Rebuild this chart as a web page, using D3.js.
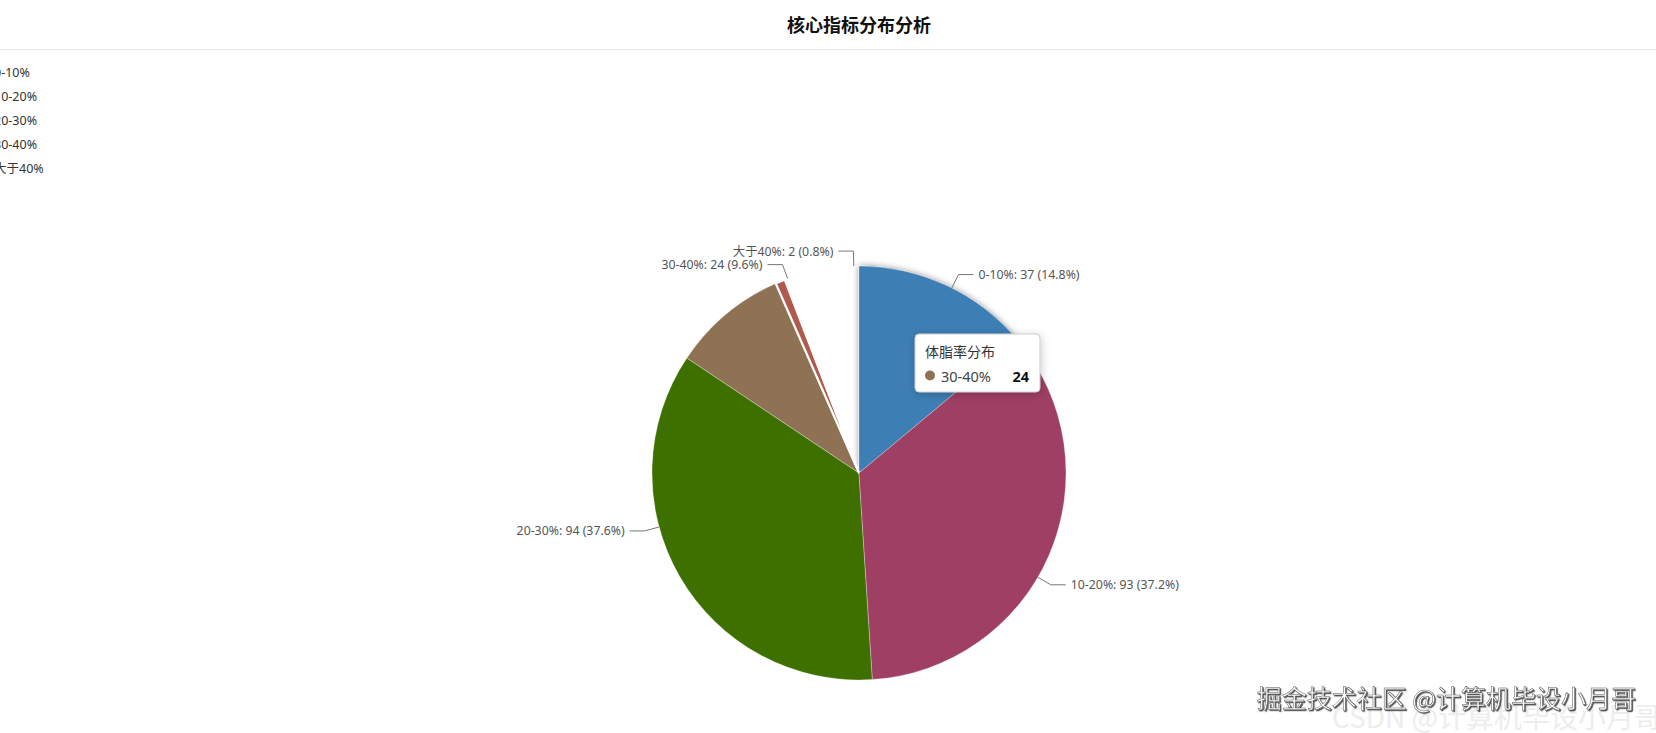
<!DOCTYPE html>
<html>
<head>
<meta charset="utf-8">
<script src="https://cdn.jsdelivr.net/npm/d3@7"></script>
<style>
  html, body { margin: 0; padding: 0; background: #fff; }
  svg { display: block; }
  text { font-family: "Noto Sans", "Noto Sans CJK SC", sans-serif; }
</style>
</head>
<body>
<svg id="chart" width="1656" height="733"></svg>
<script>
// ---- data ----
const chartTitle = "核心指标分布分析";
const seriesName = "体脂率分布";
const categories = ["0-10%", "10-20%", "20-30%", "30-40%", "大于40%"];
const values = [37, 93, 94, 24, 2];
const colors = ["#3d7eb4", "#9f3f63", "#3e7000", "#8f7254", "#b05a4d"];
const sweepDegrees = 339;           // how far the pie had swept when captured
const tooltipIndex = 3;             // item shown in the tooltip
const watermarkMain = "掘金技术社区 @计算机毕设小月哥";
const watermarkBack = "CSDN @计算机毕设小月哥";

// ---- layout ----
const W = 1656, H = 733;
const cx = 859, cy = 473, R = 207;
const svg = d3.select("#chart");

const defs = svg.append("defs");
const sh = defs.append("filter").attr("id", "sliceShadow")
  .attr("x", "-20%").attr("y", "-20%").attr("width", "140%").attr("height", "140%");
sh.append("feDropShadow").attr("dx", 0).attr("dy", 0).attr("stdDeviation", 3)
  .attr("flood-color", "#000").attr("flood-opacity", 0.45);
const tsh = defs.append("filter").attr("id", "tipShadow")
  .attr("x", "-20%").attr("y", "-30%").attr("width", "140%").attr("height", "160%");
tsh.append("feDropShadow").attr("dx", 1).attr("dy", 2).attr("stdDeviation", 4)
  .attr("flood-color", "#000").attr("flood-opacity", 0.2);
const wsh = defs.append("filter").attr("id", "wmShadow");
wsh.append("feDropShadow").attr("dx", 1.2).attr("dy", 1.2).attr("stdDeviation", 0.5)
  .attr("flood-color", "#333").attr("flood-opacity", 0.85);

// title
svg.append("text")
  .attr("x", cx).attr("y", 24)
  .attr("text-anchor", "middle").attr("dominant-baseline", "central")
  .attr("font-size", 18).attr("font-weight", "bold").attr("fill", "#111")
  .style("font-family", "'Noto Sans CJK SC', sans-serif")
  .text(chartTitle);
svg.append("line").attr("x1", 0).attr("x2", W).attr("y1", 49.5).attr("y2", 49.5)
  .attr("stroke", "#e6e6e6").attr("stroke-width", 1);

// legend (vertical, partially off-screen to the left)
const legendY = d3.scalePoint().domain(categories).range([72, 168]);
const legend = svg.append("g");
categories.forEach((c, i) => {
  legend.append("rect").attr("x", -34).attr("y", legendY(c) - 7).attr("width", 25).attr("height", 14)
    .attr("rx", 3).attr("fill", colors[i]);
  legend.append("text").attr("x", -6).attr("y", legendY(c))
    .attr("dominant-baseline", "central").attr("font-size", 12.5).attr("fill", "#333")
    .text(c);
});

// pie
const total = d3.sum(values);
const pieSwept = d3.pie().sort(null).value(d => d)
  .startAngle(0).endAngle(sweepDegrees * Math.PI / 180);
const pieFull = d3.pie().sort(null).value(d => d);
const arcsSwept = pieSwept(values);
const arcsFull = pieFull(values);
const arcGen = d3.arc().innerRadius(0).outerRadius(R);

const g = svg.append("g").attr("transform", `translate(${cx},${cy})`);
g.selectAll("path.slice").data(arcsSwept).enter().append("path")
  .attr("class", "slice")
  .attr("d", arcGen)
  .attr("fill", (d, i) => colors[i])
  .attr("stroke", "#fff").attr("stroke-width", (d, i) => i === 4 ? 2.2 : 0.3)
  .attr("stroke-linejoin", "round")
  .attr("filter", (d, i) => i === 0 ? "url(#sliceShadow)" : null);
g.selectAll("path.slice").filter((d, i) => i === 1).raise();

// labels (placed at the final angles)
const len1 = 15, len2 = 15;
const labels = svg.append("g");
arcsFull.forEach((a, i) => {
  const m = (a.startAngle + a.endAngle) / 2;
  const p0 = [cx + R * Math.sin(m), cy - R * Math.cos(m)];
  const p1 = [cx + (R + len1) * Math.sin(m), cy - (R + len1) * Math.cos(m)];
  const right = Math.sin(m) >= 0;
  const p2 = [p1[0] + (right ? len2 : -len2), p1[1]];
  labels.append("polyline")
    .attr("points", [p0, p1, p2].map(p => p.join(",")).join(" "))
    .attr("fill", "none").attr("stroke", "#777").attr("stroke-width", 1);
  const pct = (values[i] / total * 100).toFixed(1);
  labels.append("text")
    .attr("x", p2[0] + (right ? 5 : -5)).attr("y", p2[1])
    .attr("text-anchor", right ? "start" : "end")
    .attr("dominant-baseline", "central")
    .attr("font-size", 12.3).attr("fill", "#555")
    .text(`${categories[i]}: ${values[i]} (${pct}%)`);
});

// tooltip
const tip = svg.append("g").attr("transform", "translate(915,334)");
tip.append("rect").attr("x", 0).attr("y", 0).attr("width", 125).attr("height", 58)
  .attr("rx", 4).attr("fill", "#fff").attr("stroke", "#ccc").attr("stroke-width", 1)
  .attr("filter", "url(#tipShadow)");
tip.append("text").attr("x", 10).attr("y", 17).attr("dominant-baseline", "central")
  .attr("font-size", 14).attr("fill", "#333")
  .style("font-family", "'Noto Sans CJK SC', sans-serif")
  .text(seriesName);
tip.append("circle").attr("cx", 15).attr("cy", 41.5).attr("r", 5).attr("fill", colors[tooltipIndex]);
tip.append("text").attr("x", 26).attr("y", 41.5).attr("dominant-baseline", "central")
  .attr("font-size", 14.5).attr("fill", "#444").text(categories[tooltipIndex]);
tip.append("text").attr("x", 114).attr("y", 41.5).attr("dominant-baseline", "central")
  .attr("text-anchor", "end").attr("font-size", 14.5).attr("font-weight", "bold").attr("fill", "#111")
  .text(values[tooltipIndex]);

// watermark
svg.append("text").attr("x", 1662).attr("y", 728).attr("text-anchor", "end")
  .attr("font-size", 28).attr("fill", "#ededed")
  .style("font-family", "'Noto Sans CJK SC', sans-serif")
  .text(watermarkBack);
svg.append("text").attr("x", 1636).attr("y", 708).attr("text-anchor", "end")
  .attr("font-size", 25).attr("fill", "#fff").attr("stroke", "#555").attr("stroke-width", 0.5)
  .attr("filter", "url(#wmShadow)")
  .style("font-family", "'Noto Sans CJK SC', sans-serif")
  .text(watermarkMain);
</script>
</body>
</html>
